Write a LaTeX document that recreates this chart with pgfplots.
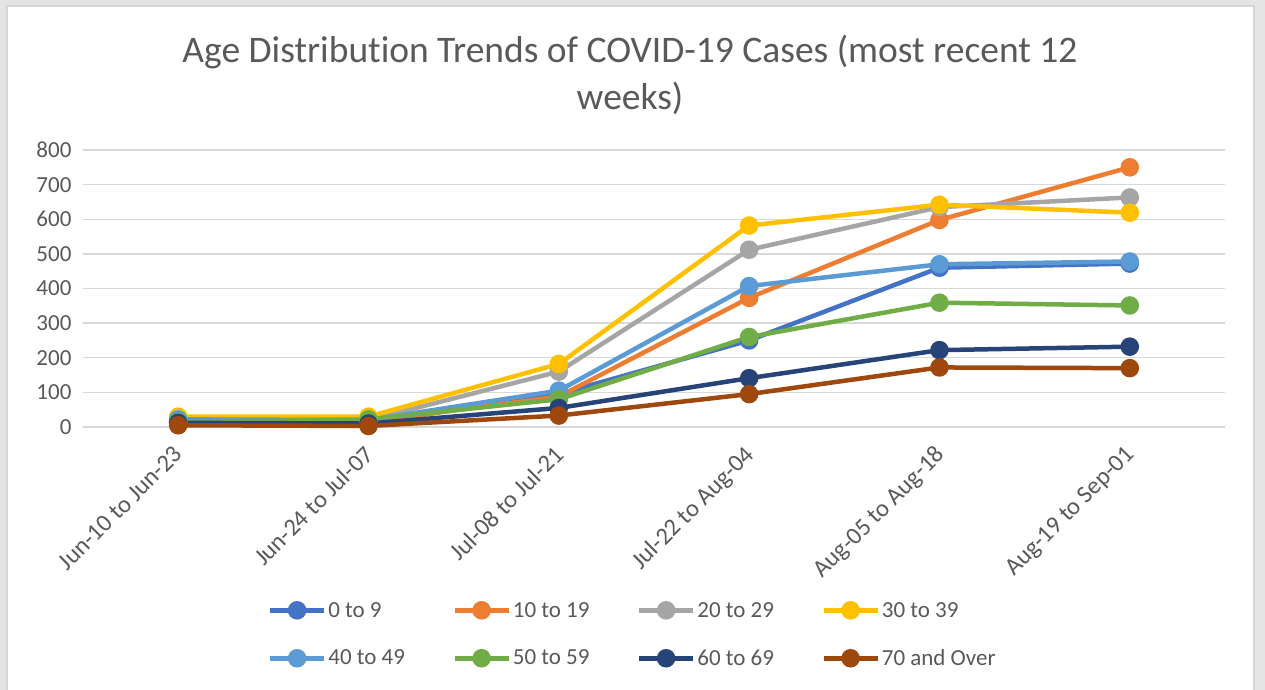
\documentclass[border=0pt]{standalone}
\usepackage{pgfplots}
\pgfplotsset{compat=1.18}
\usepackage{fontspec}
\setmainfont{Carlito}[Ligatures=NoCommon]
\definecolor{bggray}{HTML}{E4E4E4}
\definecolor{framegray}{HTML}{D6D6D6}
\definecolor{gridgray}{HTML}{D9D9D9}
\definecolor{txtgray}{HTML}{595959}
\definecolor{c1}{HTML}{4472C4}
\definecolor{c2}{HTML}{ED7D31}
\definecolor{c3}{HTML}{A5A5A5}
\definecolor{c4}{HTML}{FFC000}
\definecolor{c5}{HTML}{5B9BD5}
\definecolor{c6}{HTML}{70AD47}
\definecolor{c7}{HTML}{264478}
\definecolor{c8}{HTML}{9E480E}
\newcommand{\legtxt}[1]{\makebox[122pt][l]{#1}}
\begin{document}
\begin{tikzpicture}[x=1pt,y=1pt]
\fill[bggray] (0,0) rectangle (1265,690);
\useasboundingbox (0,0) rectangle (1265,690);
\filldraw[fill=white,draw=framegray,line width=2pt] (7,-10) rectangle (1254,684);
\node[text=txtgray,font=\fontsize{37.5}{45}\selectfont,anchor=base] at (630,627) {Age Distribution Trends of COVID-19 Cases (most recent 12};
\node[text=txtgray,font=\fontsize{37.5}{45}\selectfont,anchor=base] at (630,580) {weeks)};
\begin{axis}[
  scale only axis, width=1142pt, height=277pt,
  at={(83pt,263pt)}, anchor=south west,
  xmin=-0.5, xmax=5.5, ymin=0, ymax=800,
  xtick={0,1,2,3,4,5},
  xticklabels={Jun-10 to Jun-23,Jun-24 to Jul-07,Jul-08 to Jul-21,Jul-22 to Aug-04,Aug-05 to Aug-18,Aug-19 to Sep-01},
  ytick={0,100,...,800},
  ymajorgrids, grid style={gridgray,line width=1.3pt},
  axis line style={draw=none},
  major tick style={draw=none},
  /pgf/number format/assume math mode=true,
  tick label style={text=txtgray,font=\fontsize{23}{28}\selectfont},
  xticklabel style={rotate=45,anchor=north east,inner sep=0pt,font=\fontsize{24.5}{28}\selectfont,xshift=-16pt,yshift=-8pt},
  yticklabel style={xshift=-8pt},
  clip=false,
  every axis plot/.append style={line width=4.5pt, mark=*, mark size=7pt},
  legend columns=4,
  legend style={at={(0.485,-0.617)},anchor=north,draw=none,fill=none,
    font=\fontsize{23}{28}\selectfont, text=txtgray,
    column sep=0pt, row sep=27pt,
    nodes={inner xsep=2pt}},
  legend cell align=left,
  legend image code/.code={\draw[#1, mark repeat=2, mark phase=2] plot coordinates {(0pt,0pt) (27pt,0pt) (54pt,0pt)};},
]
\addplot[c1] coordinates {(0,15) (1,12) (2,95) (3,250) (4,460) (5,472)};
\addlegendentry{\legtxt{0 to 9}}
\addplot[c2] coordinates {(0,12) (1,15) (2,88) (3,373) (4,598) (5,750)};
\addlegendentry{\legtxt{10 to 19}}
\addplot[c3] coordinates {(0,22) (1,20) (2,160) (3,512) (4,635) (5,663)};
\addlegendentry{\legtxt{20 to 29}}
\addplot[c4] coordinates {(0,30) (1,30) (2,182) (3,582) (4,642) (5,619)};
\addlegendentry{\legtxt{30 to 39}}
\addplot[c5] coordinates {(0,22) (1,20) (2,105) (3,407) (4,470) (5,478)};
\addlegendentry{\legtxt{40 to 49}}
\addplot[c6] coordinates {(0,15) (1,22) (2,80) (3,260) (4,359) (5,351)};
\addlegendentry{\legtxt{50 to 59}}
\addplot[c7] coordinates {(0,12) (1,10) (2,55) (3,141) (4,222) (5,232)};
\addlegendentry{\legtxt{60 to 69}}
\addplot[c8] coordinates {(0,5) (1,3) (2,33) (3,95) (4,172) (5,170)};
\addlegendentry{\legtxt{70 and Over}}
\end{axis}
\end{tikzpicture}
\end{document}
